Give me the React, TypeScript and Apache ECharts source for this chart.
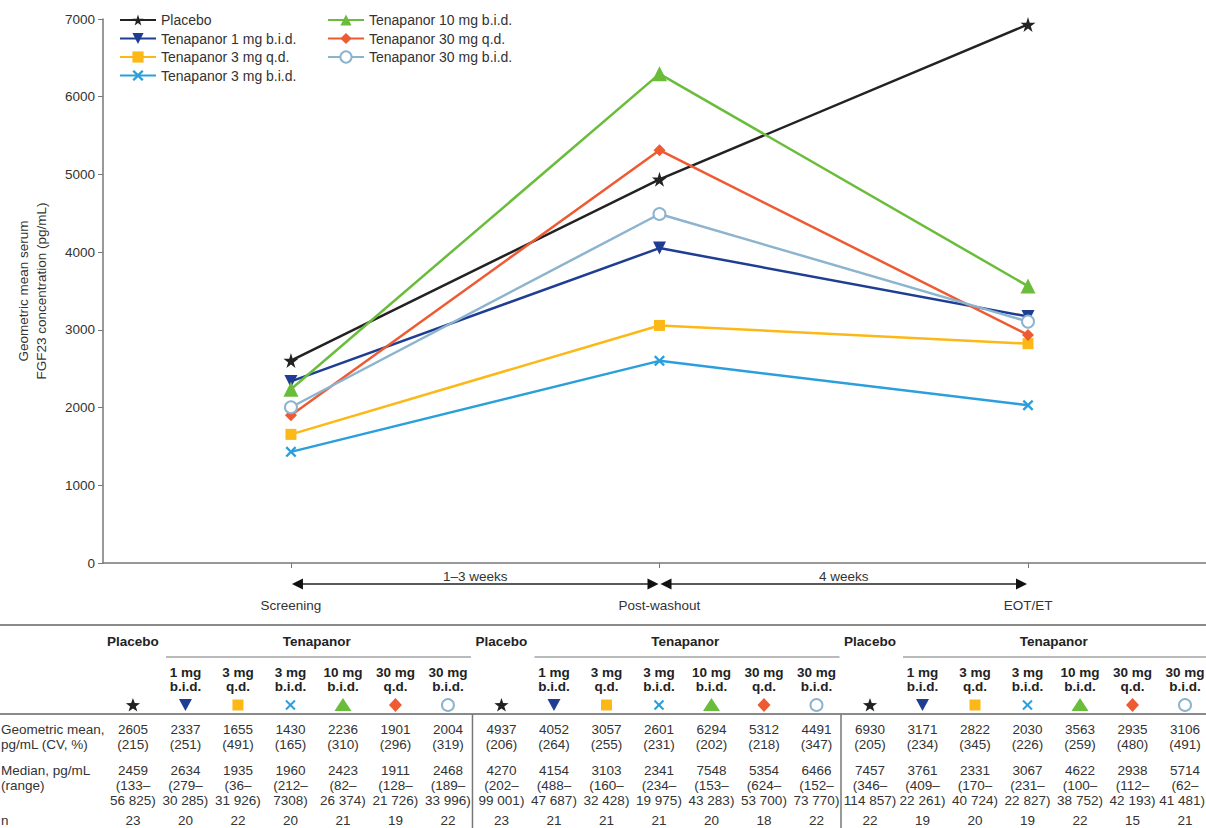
import React, { useEffect, useRef } from "react";
import * as echarts from "echarts";

// ---------- data ----------
const timepoints = ["Screening", "Post-washout", "EOT/ET"];
const intervalLabels = ["1–3 weeks", "4 weeks"];
const groupNames = [
  "Placebo",
  "Tenapanor 1 mg b.i.d.",
  "Tenapanor 3 mg q.d.",
  "Tenapanor 3 mg b.i.d.",
  "Tenapanor 10 mg b.i.d.",
  "Tenapanor 30 mg q.d.",
  "Tenapanor 30 mg b.i.d.",
];
const doseLine1 = ["", "1 mg", "3 mg", "3 mg", "10 mg", "30 mg", "30 mg"];
const doseLine2 = ["", "b.i.d.", "q.d.", "b.i.d.", "b.i.d.", "q.d.", "b.i.d."];

// geometric mean per timepoint (columns: placebo, 1 bid, 3 qd, 3 bid, 10 bid, 30 qd, 30 bid)
const geoScreening = [2605, 2337, 1655, 1430, 2236, 1901, 2004];
const geoPostWashout = [4937, 4052, 3057, 2601, 6294, 5312, 4491];
const geoEot = [6930, 3171, 2822, 2030, 3563, 2935, 3106];

const cvScreening = [215, 251, 491, 165, 310, 296, 319];
const cvPostWashout = [206, 264, 255, 231, 202, 218, 347];
const cvEot = [205, 234, 345, 226, 259, 480, 491];

const medianScreening = [2459, 2634, 1935, 1960, 2423, 1911, 2468];
const medianPostWashout = [4270, 4154, 3103, 2341, 7548, 5354, 6466];
const medianEot = [7457, 3761, 2331, 3067, 4622, 2938, 5714];

const rangeLoScreening = [133, 279, 36, 212, 82, 128, 189];
const rangeLoPostWashout = [202, 488, 160, 234, 153, 624, 152];
const rangeLoEot = [346, 409, 170, 231, 100, 112, 62];

const rangeHiScreening = [56825, 30285, 31926, 7308, 26374, 21726, 33996];
const rangeHiPostWashout = [99001, 47687, 32428, 19975, 43283, 53700, 73770];
const rangeHiEot = [114857, 22261, 40724, 22827, 38752, 42193, 41481];

const nScreening = [23, 20, 22, 20, 21, 19, 22];
const nPostWashout = [23, 21, 21, 21, 20, 18, 22];
const nEot = [22, 19, 20, 19, 22, 15, 21];

const yTicks = [0, 1000, 2000, 3000, 4000, 5000, 6000, 7000];

// ---------- styles ----------
const colors = ["#222222", "#1f3e93", "#fbb817", "#2a9fdc", "#6abd3b", "#ee5a32", "#8db4cf"];
const STAR = "path://M50,0 L61,35 L98,35 L68,57 L79,91 L50,70 L21,91 L32,57 L2,35 L39,35 Z";
const XMARK = "path://M0,1.5 L1.5,0 L5,3.5 L8.5,0 L10,1.5 L6.5,5 L10,8.5 L8.5,10 L5,6.5 L1.5,10 L0,8.5 L3.5,5 Z";
const symbols = [STAR, "triangle", "rect", XMARK, "triangle", "diamond", "emptyCircle"];
const symbolRotates = [0, 180, 0, 0, 0, 0, 0];
const symbolSizes = [15, 13, 11, 11, 15, 12, 12];
const FONT = "'Liberation Sans', Arial, Helvetica, sans-serif";
const TXT = "#333";
const FS = 13.5;

const geoTables = [geoScreening, geoPostWashout, geoEot];
const cvTables = [cvScreening, cvPostWashout, cvEot];
const medTables = [medianScreening, medianPostWashout, medianEot];
const loTables = [rangeLoScreening, rangeLoPostWashout, rangeLoEot];
const hiTables = [rangeHiScreening, rangeHiPostWashout, rangeHiEot];
const nTables = [nScreening, nPostWashout, nEot];

function fmt(v: number): string {
  if (v >= 10000) {
    const s = String(v);
    return s.slice(0, s.length - 3) + " " + s.slice(s.length - 3);
  }
  return String(v);
}

function txt(x: number, y: number, text: string, opts: any = {}) {
  return {
    type: "text",
    x,
    y,
    silent: true,
    style: {
      text,
      fill: opts.fill || TXT,
      font: `${opts.bold ? "bold " : ""}${opts.size || FS}px ${FONT}`,
      align: opts.align || "center",
      verticalAlign: "middle",
    },
  };
}

function tableSymbol(i: number, x: number, y: number): any[] {
  const c = colors[i];
  switch (i) {
    case 0: {
      const pts: number[][] = [];
      for (let k = 0; k < 10; k++) {
        const r = k % 2 === 0 ? 7.5 : 3;
        const a = -Math.PI / 2 + (k * Math.PI) / 5;
        pts.push([x + r * Math.cos(a), y + 0.5 + r * Math.sin(a)]);
      }
      return [{ type: "polygon", shape: { points: pts }, style: { fill: c } }];
    }
    case 1:
      return [{ type: "polygon", shape: { points: [[x - 6.5, y - 6], [x + 6.5, y - 6], [x, y + 6]] }, style: { fill: c } }];
    case 2:
      return [{ type: "rect", shape: { x: x - 5.5, y: y - 5.5, width: 11, height: 11 }, style: { fill: c } }];
    case 3:
      return [
        { type: "line", shape: { x1: x - 4.5, y1: y - 4.5, x2: x + 4.5, y2: y + 4.5 }, style: { stroke: c, lineWidth: 2 } },
        { type: "line", shape: { x1: x - 4.5, y1: y + 4.5, x2: x + 4.5, y2: y - 4.5 }, style: { stroke: c, lineWidth: 2 } },
      ];
    case 4:
      return [{ type: "polygon", shape: { points: [[x, y - 7], [x + 8.5, y + 6], [x - 8.5, y + 6]] }, style: { fill: c } }];
    case 5:
      return [{ type: "polygon", shape: { points: [[x, y - 7], [x + 6.5, y], [x, y + 7], [x - 6.5, y]] }, style: { fill: c } }];
    default:
      return [{ type: "circle", shape: { cx: x, cy: y, r: 6 }, style: { fill: "#fff", stroke: c, lineWidth: 2 } }];
  }
}

export default function App() {
  const ref = useRef<HTMLDivElement>(null);

  useEffect(() => {
    document.body.style.margin = "0";
    const chart = echarts.init(ref.current!, null, { renderer: "svg" });

    const series = groupNames.map((name, i) => ({
      name,
      type: "line",
      data: timepoints.map((_, t) => [t, geoTables[t][i]]),
      symbol: symbols[i],
      symbolRotate: symbolRotates[i],
      symbolSize: symbolSizes[i],
      showAllSymbol: true,
      clip: false,
      lineStyle: { color: colors[i], width: 2.5 },
      itemStyle: { color: colors[i], borderColor: colors[i], borderWidth: i === 6 ? 2 : 0 },
      emphasis: { disabled: true },
      z: 2 + i,
    }));

    const legendCommon = {
      orient: "vertical",
      top: 8,
      itemGap: 4.5,
      itemWidth: 36,
      itemHeight: 14,
      selectedMode: false,
      textStyle: { fontSize: 14, color: TXT, fontFamily: FONT },
    };

    chart.setOption({
      animation: false,
      textStyle: { fontFamily: FONT },
      grid: { left: 103, right: 0, top: 19, height: 544 },
      legend: [
        { ...legendCommon, left: 114, data: groupNames.slice(0, 4) },
        { ...legendCommon, left: 322, data: groupNames.slice(4) },
      ],
      xAxis: {
        type: "value",
        min: -0.51,
        max: 2.483,
        axisLine: { show: true, onZero: false, lineStyle: { color: "#777", width: 1.5 } },
        axisTick: { show: true, customValues: [0, 1, 2], length: 5, lineStyle: { color: "#777" } },
        axisLabel: {
          show: true,
          customValues: [0, 1, 2],
          formatter: (v: number) => timepoints[Math.round(v)] || "",
          margin: 35,
          fontSize: FS,
          color: TXT,
        },
        splitLine: { show: false },
      },
      yAxis: {
        type: "value",
        min: 0,
        max: 7000,
        interval: 1000,
        name: "Geometric mean serum\nFGF23 concentration (pg/mL)",
        nameLocation: "middle",
        nameGap: 53,
        nameTextStyle: { fontSize: FS, color: TXT, lineHeight: 18 },
        axisLine: { show: true, onZero: false, lineStyle: { color: "#777", width: 1.5 } },
        axisTick: { show: true, length: 5, lineStyle: { color: "#777" } },
        axisLabel: { fontSize: FS, color: TXT, margin: 8, formatter: (v: number) => (yTicks.includes(v) ? String(v) : "") },
        splitLine: { show: false },
      },
      series,
    });

    // ---------- decorations derived from the axes ----------
    const px = timepoints.map((_, t) => chart.convertToPixel({ xAxisIndex: 0, yAxisIndex: 0 }, [t, 0]) as number[]);
    const axisY = px[0][1];
    const arrowY = axisY + 21;
    const g: any[] = [];
    const head = (tipX: number, dir: number) => ({
      type: "polygon",
      shape: { points: [[tipX, arrowY], [tipX - dir * 11, arrowY - 5.5], [tipX - dir * 11, arrowY + 5.5]] },
      style: { fill: "#111" },
    });
    for (let k = 0; k < 2; k++) {
      const a = px[k][0];
      const b = px[k + 1][0];
      g.push({ type: "line", shape: { x1: a + 4, y1: arrowY, x2: b - 4, y2: arrowY }, style: { stroke: "#222", lineWidth: 1.3 } });
      g.push(head(a + 1, -1));
      g.push(head(b - 1, 1));
      g.push(txt((a + b) / 2, arrowY - 8, intervalLabels[k]));
    }

    // ---------- table ----------
    const W = 1206;
    const colGap = 52.5;
    g.push({ type: "rect", shape: { x: 0, y: 624, width: W, height: 2 }, style: { fill: "#8a8a8a" } });
    g.push({ type: "rect", shape: { x: 0, y: 713, width: W, height: 2 }, style: { fill: "#8a8a8a" } });

    const rowLabels: [string, number][] = [
      ["Geometric mean,", 729],
      ["pg/mL (CV, %)", 744],
      ["Median, pg/mL", 770],
      ["(range)", 785],
      ["n", 820],
    ];
    rowLabels.forEach(([s, y]) => g.push(txt(1, y, s, { align: "left" })));

    const cell = (x: number, y: number, s: string) => {
      const half = (echarts.format as any).getTextRect
        ? (echarts.format as any).getTextRect(s, `${FS}px ${FONT}`).width / 2
        : s.length * 3.6;
      if (x + half > W - 1) return txt(W - 1, y, s, { align: "right" });
      return txt(x, y, s);
    };

    for (let t = 0; t < 3; t++) {
      const baseX = px[t][0] - 158;
      if (t > 0) {
        const sepX = px[t][0] - 187;
        g.push({ type: "line", shape: { x1: sepX, y1: 714, x2: sepX, y2: 828 }, style: { stroke: "#777", lineWidth: 1.5 } });
      }
      g.push(txt(baseX, 641, "Placebo", { bold: true, fill: "#222" }));
      g.push(txt(baseX + 3.5 * colGap, 641, "Tenapanor", { bold: true, fill: "#222" }));
      g.push({
        type: "line",
        shape: { x1: baseX + 33, y1: 657, x2: Math.min(W, baseX + 338), y2: 657 },
        style: { stroke: "#777", lineWidth: 1.2 },
      });
      for (let i = 0; i < 7; i++) {
        const x = baseX + i * colGap;
        if (i > 0) {
          g.push(txt(x, 672, doseLine1[i], { bold: true, fill: "#222" }));
          g.push(txt(x, 686, doseLine2[i], { bold: true, fill: "#222" }));
        }
        tableSymbol(i, x, 705).forEach((s) => g.push({ ...s, silent: true }));
        g.push(cell(x, 729, String(geoTables[t][i])));
        g.push(cell(x, 744, `(${cvTables[t][i]})`));
        g.push(cell(x, 770, String(medTables[t][i])));
        g.push(cell(x, 785, `(${loTables[t][i]}–`));
        g.push(cell(x, 800, `${fmt(hiTables[t][i])})`));
        g.push(cell(x, 820, String(nTables[t][i])));
      }
    }

    chart.setOption({ graphic: g });

    return () => chart.dispose();
  }, []);

  return (
    <div
      ref={ref}
      style={{ position: "absolute", left: 0, top: 0, width: 1206, height: 828, background: "#fff" }}
    />
  );
}
